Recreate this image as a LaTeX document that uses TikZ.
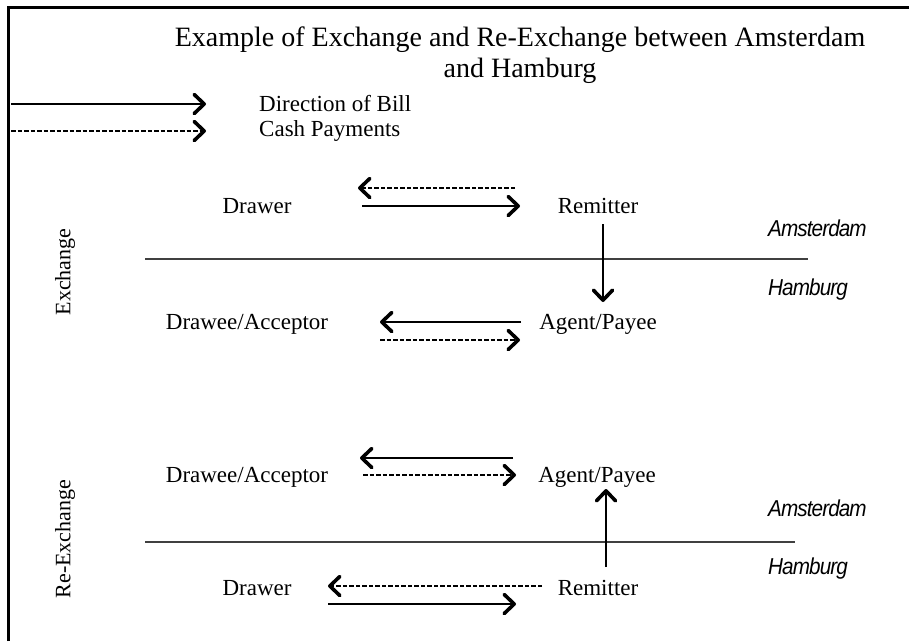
\documentclass[tikz,border=0pt]{standalone}
\usepackage{fontspec}
\setmainfont{Liberation Serif}
\newfontfamily\cityfont[FakeStretch=0.9, LetterSpace=-4]{Liberation Sans}
\usetikzlibrary{arrows.meta}

\tikzset{
  party/.style={inner sep=0pt, font=\fontsize{23}{27}\selectfont},
  city/.style={inner sep=0pt, anchor=west, font=\cityfont\itshape\fontsize{23}{27}\selectfont},
  phase/.style={inner sep=0pt, rotate=90, font=\fontsize{22}{26}\selectfont},
  chev/.tip={Straight Barb[length=10pt, width=19pt, line width=3.6pt, round]},
  bill/.style={line width=1.5pt, -chev},
  cash/.style={line width=1.2pt, dash pattern=on 4.5pt off 2pt, -chev},
  border/.style={line width=3pt},
  divider/.style={line width=1.3pt, black!75}
}

\begin{document}
\begin{tikzpicture}[x=1pt, y=-1pt]
  \useasboundingbox (0,0) rectangle (909,641);

  % frame (top and left edges)
  \draw[border] (8.5,641) -- (8.5,7.5) -- (909,7.5);

  % title
  \node[inner sep=0pt, align=center, font=\fontsize{28}{31}\selectfont] (title) at (520,55)
    {Example of Exchange and Re-Exchange between Amsterdam\\and Hamburg};

  % legend
  \coordinate (lgA0) at (11,104);  \coordinate (lgA1) at (206,104);
  \coordinate (lgB0) at (11,131);  \coordinate (lgB1) at (206,131);
  \draw[bill] (lgA0) -- (lgA1);
  \draw[cash] (lgB0) -- (lgB1);
  \node[party, anchor=west] (lgbill) at (259,104) {Direction of Bill};
  \node[party, anchor=west] (lgcash) at (259,131) {Cash Payments};

  % ---------------- Exchange ----------------
  \node[phase] (exch) at (65,272) {Exchange};
  \node[party] (drawerA) at (257,206) {Drawer};
  \node[party] (remitA)  at (598,206) {Remitter};
  \node[party] (draweeA) at (247,324) {Drawee/Acceptor};
  \node[party] (agentA)  at (598,324) {Agent/Payee};

  \coordinate (lineA0) at (145,259); \coordinate (lineA1) at (808,259);
  \draw[divider] (lineA0) -- (lineA1);
  \node[city] (amsA) at (768,228) {Amsterdam};
  \node[city] (hamA) at (768,290) {Hamburg};

  \coordinate (a1s) at (515,188); \coordinate (a1e) at (358,188);
  \coordinate (a2s) at (362,206); \coordinate (a2e) at (520,206);
  \coordinate (a3s) at (603,224); \coordinate (a3e) at (603,302);
  \coordinate (a4s) at (521,322); \coordinate (a4e) at (380,322);
  \coordinate (a5s) at (380,340); \coordinate (a5e) at (520,340);
  \draw[cash] (a1s) -- (a1e);
  \draw[bill] (a2s) -- (a2e);
  \draw[bill] (a3s) -- (a3e);
  \draw[bill] (a4s) -- (a4e);
  \draw[cash] (a5s) -- (a5e);

  % ---------------- Re-Exchange ----------------
  \node[phase] (reexch) at (65,539) {Re-Exchange};
  \node[party] (draweeB) at (247,477) {Drawee/Acceptor};
  \node[party] (agentB)  at (597,477) {Agent/Payee};
  \node[party] (drawerB) at (257,588) {Drawer};
  \node[party] (remitB)  at (598,588) {Remitter};

  \coordinate (lineB0) at (145,542); \coordinate (lineB1) at (795,542);
  \draw[divider] (lineB0) -- (lineB1);
  \node[city] (amsB) at (768,508) {Amsterdam};
  \node[city] (hamB) at (768,569) {Hamburg};

  \coordinate (b1s) at (513,458); \coordinate (b1e) at (360,458);
  \coordinate (b2s) at (363,475); \coordinate (b2e) at (516,475);
  \coordinate (b3s) at (606,567); \coordinate (b3e) at (606,489);
  \coordinate (b4s) at (542,586); \coordinate (b4e) at (328,586);
  \coordinate (b5s) at (328,604); \coordinate (b5e) at (516,604);
  \draw[bill] (b1s) -- (b1e);
  \draw[cash] (b2s) -- (b2e);
  \draw[bill] (b3s) -- (b3e);
  \draw[cash] (b4s) -- (b4e);
  \draw[bill] (b5s) -- (b5e);
\end{tikzpicture}
\end{document}
